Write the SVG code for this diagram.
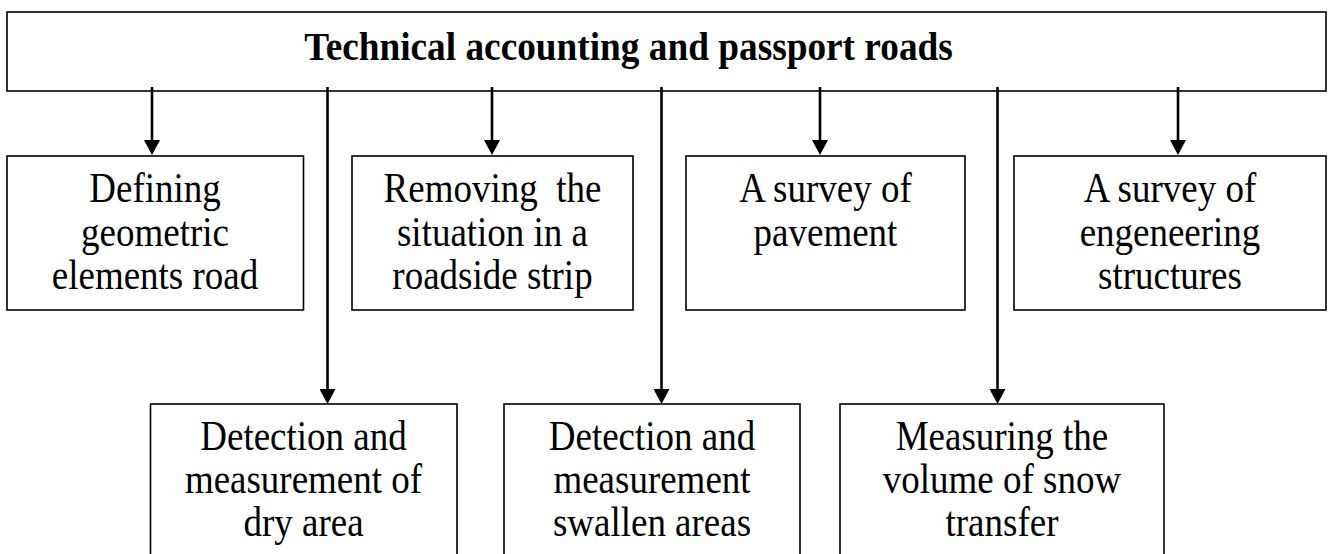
<svg xmlns="http://www.w3.org/2000/svg" width="1330" height="554" viewBox="0 0 1330 554">
<style>
.box{fill:#fff;stroke:#000;stroke-width:1.6}
.t{font-family:"Liberation Serif","Times New Roman",serif;font-size:37px;fill:#000;text-anchor:middle}
.title{font-weight:bold;font-size:37.3px}
.c{stroke:#000;stroke-width:2.6;fill:none}
</style>
<defs>
<marker id="ah" viewBox="0 -8 15 16" refX="3" refY="0" markerWidth="15" markerHeight="16" markerUnits="userSpaceOnUse" orient="auto">
<path d="M0,-8 L15,0 L0,8 z" fill="#000"/>
</marker>
</defs>
<rect width="1330" height="554" fill="#fff"/>
<g id="root">
<rect class="box" x="7" y="12" width="1319" height="79"/>
<text class="t title" x="628.5" y="0" transform="translate(0,59.5) scale(1,1.08)">Technical accounting and passport roads</text>
</g>
<g id="n1">
<rect class="box" x="7" y="156" width="296.5" height="154"/>
<text class="t" x="155" y="0" transform="translate(0,202) scale(1,1.12)">Defining</text>
<text class="t" x="155" y="0" transform="translate(0,245.5) scale(1,1.12)">geometric</text>
<text class="t" x="155" y="0" transform="translate(0,289) scale(1,1.12)">elements road</text>
</g>
<g id="n2">
<rect class="box" x="352" y="156" width="281" height="154"/>
<text class="t" x="492.5" y="0" transform="translate(0,202) scale(1,1.12)" xml:space="preserve">Removing  the</text>
<text class="t" x="492.5" y="0" transform="translate(0,245.5) scale(1,1.12)">situation in a</text>
<text class="t" x="492.5" y="0" transform="translate(0,289) scale(1,1.12)">roadside strip</text>
</g>
<g id="n3">
<rect class="box" x="686" y="156" width="279" height="154"/>
<text class="t" x="825.5" y="0" transform="translate(0,202) scale(1,1.12)">A survey of</text>
<text class="t" x="825.5" y="0" transform="translate(0,245.5) scale(1,1.12)">pavement</text>
</g>
<g id="n4">
<rect class="box" x="1014" y="156" width="312" height="154"/>
<text class="t" x="1170" y="0" transform="translate(0,202) scale(1,1.12)">A survey of</text>
<text class="t" x="1170" y="0" transform="translate(0,245.5) scale(1,1.12)">engeneering</text>
<text class="t" x="1170" y="0" transform="translate(0,289) scale(1,1.12)">structures</text>
</g>
<g id="n5">
<rect class="box" x="150.5" y="404" width="306.5" height="160"/>
<text class="t" x="303.5" y="0" transform="translate(0,449.5) scale(1,1.12)">Detection and</text>
<text class="t" x="303.5" y="0" transform="translate(0,492.5) scale(1,1.12)">measurement of</text>
<text class="t" x="303.5" y="0" transform="translate(0,535.5) scale(1,1.12)">dry area</text>
</g>
<g id="n6">
<rect class="box" x="504" y="404" width="296" height="160"/>
<text class="t" x="652" y="0" transform="translate(0,449.5) scale(1,1.12)">Detection and</text>
<text class="t" x="652" y="0" transform="translate(0,492.5) scale(1,1.12)">measurement</text>
<text class="t" x="652" y="0" transform="translate(0,535.5) scale(1,1.12)">swallen areas</text>
</g>
<g id="n7">
<rect class="box" x="840" y="404" width="324" height="160"/>
<text class="t" x="1002" y="0" transform="translate(0,449.5) scale(1,1.12)">Measuring the</text>
<text class="t" x="1002" y="0" transform="translate(0,492.5) scale(1,1.12)">volume of snow</text>
<text class="t" x="1002" y="0" transform="translate(0,535.5) scale(1,1.12)">transfer</text>
</g>
<g id="connectors">
<line class="c" x1="152" y1="87" x2="152" y2="143" marker-end="url(#ah)"/>
<line class="c" x1="327.5" y1="87" x2="327.5" y2="392" marker-end="url(#ah)"/>
<line class="c" x1="492" y1="87" x2="492" y2="143" marker-end="url(#ah)"/>
<line class="c" x1="661.5" y1="87" x2="661.5" y2="392" marker-end="url(#ah)"/>
<line class="c" x1="820" y1="87" x2="820" y2="143" marker-end="url(#ah)"/>
<line class="c" x1="997.5" y1="87" x2="997.5" y2="392" marker-end="url(#ah)"/>
<line class="c" x1="1178" y1="87" x2="1178" y2="143" marker-end="url(#ah)"/>
</g>
</svg>
